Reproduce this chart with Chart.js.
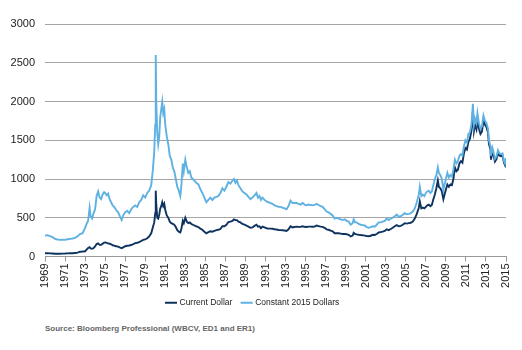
<!DOCTYPE html>
<html>
<head>
<meta charset="utf-8">
<script src="https://cdn.jsdelivr.net/npm/chart.js@4/dist/chart.umd.min.js"></script>
<style>
    html, body { margin: 0; padding: 0; background: #fff; }
    #wrap { position: relative; width: 522px; height: 350px; }
    #goldChart { position: absolute; left: 0; top: 0; }
    #source {
        position: absolute; left: 45px; top: 324px;
        font: bold 8px "Liberation Sans", Arial, sans-serif; color: #666;
    }
</style>
</head>
<body>
<div id="wrap">
    <canvas id="goldChart" width="522" height="317"></canvas>
    <div id="source">Source: Bloomberg Professional (WBCV, ED1 and ER1)</div>
</div>
<script>
// Sample dates (fractional years)
const years = [
    1969.0, 1969.25, 1969.5, 1969.75, 1970.0, 1970.25, 1970.5, 1970.75, 1971.0, 1971.25, 1971.5, 1971.75,
    1972.0, 1972.25, 1972.5, 1972.75, 1973.0, 1973.15, 1973.3, 1973.45, 1973.55, 1973.7, 1973.85,
    1974.0, 1974.15, 1974.3, 1974.45, 1974.6, 1974.75, 1974.9, 1975.0, 1975.15, 1975.3, 1975.45, 1975.6,
    1975.75, 1975.9, 1976.1, 1976.3, 1976.5, 1976.65, 1976.8, 1977.0, 1977.2, 1977.4, 1977.6, 1977.8,
    1978.0, 1978.2, 1978.4, 1978.6, 1978.8, 1979.0, 1979.2, 1979.4, 1979.6, 1979.75, 1979.9,
    1980.0, 1980.05, 1980.1, 1980.2, 1980.3, 1980.4, 1980.5, 1980.6, 1980.7, 1980.8, 1980.9,
    1981.0, 1981.15, 1981.3, 1981.45, 1981.6, 1981.75, 1981.9, 1982.05, 1982.2, 1982.35, 1982.5,
    1982.6, 1982.75, 1982.85, 1983.0, 1983.15, 1983.3, 1983.45, 1983.6, 1983.75, 1983.9,
    1984.1, 1984.3, 1984.5, 1984.7, 1984.9, 1985.1, 1985.3, 1985.5, 1985.7, 1985.9,
    1986.1, 1986.3, 1986.5, 1986.7, 1986.9, 1987.1, 1987.3, 1987.5, 1987.7, 1987.85,
    1988.0, 1988.15, 1988.3, 1988.5, 1988.7, 1988.9, 1989.1, 1989.3, 1989.5, 1989.7, 1989.9,
    1990.1, 1990.25, 1990.4, 1990.55, 1990.7, 1990.9, 1991.1, 1991.3, 1991.5, 1991.7, 1991.9,
    1992.1, 1992.3, 1992.5, 1992.7, 1992.9, 1993.1, 1993.3, 1993.5, 1993.7, 1993.9,
    1994.1, 1994.3, 1994.5, 1994.7, 1994.9, 1995.1, 1995.3, 1995.5, 1995.7, 1995.9,
    1996.1, 1996.3, 1996.5, 1996.7, 1996.9, 1997.1, 1997.3, 1997.5, 1997.7, 1997.9,
    1998.1, 1998.3, 1998.5, 1998.7, 1998.9, 1999.1, 1999.3, 1999.5, 1999.7, 1999.8, 1999.95,
    2000.1, 2000.3, 2000.5, 2000.7, 2000.9, 2001.1, 2001.3, 2001.5, 2001.7, 2001.9,
    2002.1, 2002.3, 2002.5, 2002.7, 2002.9, 2003.1, 2003.3, 2003.5, 2003.7, 2003.9,
    2004.1, 2004.3, 2004.5, 2004.7, 2004.9, 2005.1, 2005.3, 2005.5, 2005.7, 2005.9,
    2006.1, 2006.3, 2006.4, 2006.55, 2006.7, 2006.85, 2007.0, 2007.15, 2007.3, 2007.45, 2007.6, 2007.75, 2007.9,
    2008.05, 2008.2, 2008.3, 2008.45, 2008.6, 2008.75, 2008.85, 2009.0, 2009.15, 2009.3, 2009.45, 2009.6, 2009.75, 2009.9,
    2010.05, 2010.2, 2010.35, 2010.5, 2010.65, 2010.8, 2010.95, 2011.1, 2011.25, 2011.4, 2011.55, 2011.7, 2011.8, 2011.9,
    2012.05, 2012.15, 2012.3, 2012.45, 2012.6, 2012.75, 2012.9, 2013.05, 2013.2, 2013.3, 2013.45, 2013.5, 2013.65, 2013.75, 2013.9,
    2014.05, 2014.2, 2014.35, 2014.5, 2014.65, 2014.8, 2014.9, 2015.0
];

// Constant 2015 dollars
const constantDollars = [
    270, 275, 262, 250, 228, 220, 215, 218, 215, 222, 228, 232,
    240, 262, 290, 300, 370, 420, 460, 630, 520, 490, 560,
    610, 780, 840, 760, 740, 800, 830, 820, 790, 810, 740, 700,
    660, 640, 600, 570, 510, 470, 530, 570, 590, 560, 610, 640,
    660, 640, 700, 730, 790, 760, 820, 850, 920, 1100, 1350,
    1700, 2600, 2000, 1600, 1450, 1550, 1800, 1900, 2000, 1850, 1900,
    1700, 1550, 1450, 1300, 1250, 1150, 1100, 1000, 900, 850, 780,
    900, 1200, 1100, 1250, 1150, 1080, 1100, 1020, 1000, 980,
    950, 930, 870, 820, 760, 700, 730, 760, 730, 760,
    770, 780, 820, 880, 850, 900, 960, 940, 980, 1000,
    950, 980, 920, 880, 840, 820, 800, 770, 740, 760, 790,
    820, 760, 780, 730, 760, 730, 710, 700, 690, 680, 660,
    650, 640, 640, 630, 620, 610, 650, 720, 690, 690,
    690, 680, 670, 690, 670, 660, 670, 665, 660, 665,
    680, 665, 650, 640, 610, 580, 570, 550, 530, 490,
    500, 490, 480, 470, 480, 460, 450, 410, 430, 480, 440,
    440, 420, 410, 405, 400, 380, 370, 380, 390, 385,
    410, 440, 440, 450, 460, 490, 470, 490, 500, 520,
    540, 510, 520, 540, 560, 545, 550, 560, 580, 620,
    700, 800, 900, 780, 800, 780, 820, 840, 850, 820, 840, 920, 1000,
    1050, 1150, 1080, 1050, 1000, 860, 920, 1000, 1080, 1020, 1050, 1030, 1120, 1250,
    1200, 1230, 1300, 1320, 1300, 1420, 1500, 1470, 1580, 1600, 1700, 1970, 1700, 1780,
    1720, 1850, 1720, 1650, 1680, 1820, 1750, 1720, 1650, 1500, 1420, 1300, 1400, 1350, 1260,
    1290, 1370, 1330, 1320, 1330, 1230, 1200, 1270
];

// Current (nominal) dollars
const currentDollars = [
    42, 43, 41, 38, 35, 36, 36, 37, 38, 40, 41, 42,
    46, 50, 62, 64, 68, 90, 110, 120, 105, 100, 110,
    130, 160, 170, 150, 150, 165, 180, 182, 175, 170, 165, 158,
    145, 140, 132, 128, 115, 108, 118, 132, 138, 142, 148, 158,
    172, 178, 185, 200, 215, 220, 235, 260, 300, 370, 440,
    560, 850, 680, 500, 490, 540, 620, 650, 700, 650, 680,
    600, 530, 500, 450, 430, 420, 410, 380, 340, 320, 310,
    350, 460, 430, 500, 450, 430, 440, 420, 410, 400,
    390, 380, 360, 345, 320, 300, 315, 325, 320, 330,
    340, 345, 355, 390, 390, 410, 445, 450, 460, 480,
    470, 470, 450, 440, 420, 410, 400, 385, 370, 375, 395,
    410, 385, 390, 365, 385, 375, 365, 360, 360, 358, 352,
    348, 342, 340, 338, 335, 330, 350, 390, 375, 380,
    385, 382, 382, 390, 383, 380, 385, 385, 384, 386,
    400, 393, 385, 382, 370, 350, 345, 335, 325, 300,
    300, 300, 295, 290, 292, 287, 280, 258, 270, 305, 290,
    285, 280, 277, 275, 270, 265, 262, 268, 280, 278,
    290, 310, 315, 320, 330, 350, 340, 355, 370, 390,
    405, 390, 395, 410, 430, 425, 430, 435, 450, 490,
    550, 630, 710, 620, 630, 620, 640, 660, 670, 650, 665, 740, 800,
    880, 980, 900, 880, 840, 740, 790, 860, 930, 900, 930, 920, 1000, 1150,
    1100, 1120, 1200, 1230, 1210, 1330, 1400, 1380, 1480, 1520, 1620, 1880, 1620, 1700,
    1640, 1770, 1650, 1580, 1610, 1760, 1700, 1670, 1600, 1450, 1380, 1250, 1360, 1310, 1225,
    1255, 1335, 1300, 1295, 1305, 1210, 1180, 1260
];

const seriesNames = ['Current Dollar', 'Constant 2015 Dollars'];
const yTicks = [0, 500, 1000, 1500, 2000, 2500, 3000];

function toPoints(values) {
    return years.map((yr, i) => ({ x: yr, y: values[i] }));
}

const ctx = document.getElementById('goldChart').getContext('2d');
const fontFamily = '"Liberation Sans", Arial, sans-serif';

new Chart(ctx, {
    type: 'line',
    data: {
        datasets: [
            {
                label: seriesNames[0],
                data: toPoints(currentDollars),
                borderColor: '#0e335f',
                backgroundColor: '#0e335f',
                borderWidth: 1.9,
                pointRadius: 0,
                tension: 0,
                order: 1
            },
            {
                label: seriesNames[1],
                data: toPoints(constantDollars),
                borderColor: '#5fb1e2',
                backgroundColor: '#5fb1e2',
                borderWidth: 1.9,
                pointRadius: 0,
                tension: 0,
                order: 0
            }
        ]
    },
    options: {
        responsive: false,
        animation: false,
        layout: { padding: { left: 0, right: 16, top: 24, bottom: 0 } },
        scales: {
            x: {
                type: 'linear',
                min: 1969,
                max: 2015,
                afterBuildTicks: scale => {
                    const t = [];
                    for (let y = 1969; y <= 2015; y += 2) t.push({ value: y });
                    scale.ticks = t;
                },
                afterFit: scale => { scale.height = 32; },
                ticks: {
                    autoSkip: false,
                    minRotation: 90,
                    maxRotation: 90,
                    padding: 2,
                    color: '#222',
                    font: { family: fontFamily, size: 11 },
                    callback: v => String(v)
                },
                grid: {
                    drawOnChartArea: false,
                    drawTicks: true,
                    tickLength: 5,
                    color: '#999'
                },
                border: { display: true, color: '#999', width: 1 }
            },
            y: {
                min: 0,
                max: 3000,
                afterBuildTicks: scale => {
                    scale.ticks = yTicks.map(v => ({ value: v }));
                },
                afterFit: scale => { scale.width = 45; },
                ticks: {
                    padding: 10,
                    color: '#222',
                    font: { family: fontFamily, size: 11 },
                    callback: v => String(v)
                },
                grid: {
                    color: '#a6a6a6',
                    lineWidth: 1,
                    drawTicks: false
                },
                border: { display: false }
            }
        },
        plugins: {
            legend: {
                position: 'bottom',
                labels: {
                    usePointStyle: true,
                    pointStyle: 'line',
                    boxWidth: 12,
                    padding: 10,
                    color: '#222',
                    font: { family: fontFamily, size: 8.5 },
                    sort: (a, b) => a.datasetIndex - b.datasetIndex
                }
            },
            tooltip: { enabled: false }
        }
    }
});
</script>
</body>
</html>
